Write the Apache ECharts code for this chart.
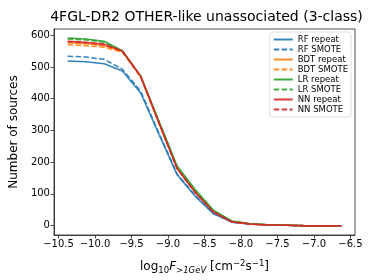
<!DOCTYPE html>
<html>
<head>
<meta charset="utf-8">
<script src="https://cdn.jsdelivr.net/npm/echarts@6/dist/echarts.min.js"></script>
<style>html,body{margin:0;padding:0;background:#fff}#c{width:374px;height:280px}</style>
</head>
<body>
<div id="c"></div>
<script>
const xValues = [-10.375, -10.125, -9.875, -9.625, -9.375, -9.125, -8.875, -8.625, -8.375, -8.125, -7.875, -7.625, -7.375, -7.125, -6.875, -6.625];
const rfRepeat = [519, 516, 510, 487, 418, 288, 160, 92, 37, 11, 5, 2, 1, 0, 0, 0];
const rfSmote = [534, 531, 524, 493, 424, 292, 163, 94, 38, 11, 5, 2, 1, 0, 0, 0];
const bdtRepeat = [576, 573, 567, 549, 470, 324, 181, 106, 44, 13, 5, 2, 1, 0, 0, 0];
const bdtSmote = [570, 567, 562, 546, 468, 322, 180, 105, 43, 12, 5, 2, 1, 0, 0, 0];
const lrRepeat = [591, 588, 581, 551, 472, 330, 188, 113, 48, 15, 6, 3, 1, 0, 0, 0];
const lrSmote = [588, 585, 578, 550, 471, 328, 186, 111, 47, 14, 6, 3, 1, 0, 0, 0];
const nnRepeat = [581, 578, 572, 550, 471, 325, 180, 104, 43, 12, 5, 2, 1, 0, 0, 0];
const nnSmote = [579, 576, 570, 549, 470, 324, 179, 103, 42, 12, 5, 2, 1, 0, 0, 0];
const xTicks = [-10.5, -10.0, -9.5, -9.0, -8.5, -8.0, -7.5, -7.0, -6.5];
const yTicks = [0, 100, 200, 300, 400, 500, 600];
const titleText = '4FGL-DR2 OTHER-like unassociated (3-class)';

const seriesDefs = [
  ['RF repeat', rfRepeat, '#1f77b4', 'solid'],
  ['RF SMOTE', rfSmote, '#1f77b4', 'dashed'],
  ['BDT repeat', bdtRepeat, '#ff7f0e', 'solid'],
  ['BDT SMOTE', bdtSmote, '#ff7f0e', 'dashed'],
  ['LR repeat', lrRepeat, '#2ca02c', 'solid'],
  ['LR SMOTE', lrSmote, '#2ca02c', 'dashed'],
  ['NN repeat', nnRepeat, '#d62728', 'solid'],
  ['NN SMOTE', nnSmote, '#d62728', 'dashed']
];

const font = 'DejaVu Sans';
const fmt = v => (v < 0 ? '\u2212' : '') + Math.abs(v).toFixed(1);

const chart = echarts.init(document.getElementById('c'), null, {renderer: 'canvas'});
chart.setOption({
  animation: false,
  backgroundColor: '#fff',
  title: {
    text: titleText,
    left: 201.5,
    textAlign: 'center',
    top: 5,
    textStyle: {fontFamily: font, fontSize: 14, fontWeight: 'normal', color: '#000'}
  },
  grid: {left: 48, right: 19, top: 29, bottom: 42, show: true, borderColor: '#222', borderWidth: 0.8, backgroundColor: 'transparent'},
  legend: {
    orient: 'vertical',
    right: 23,
    top: 32,
    itemWidth: 19,
    itemHeight: 8,
    itemGap: 1,
    padding: [3, 3, 3, 3],
    backgroundColor: '#fff',
    borderColor: '#d5d5d5',
    borderWidth: 0.8,
    borderRadius: 3,
    itemStyle: {opacity: 0},
    textStyle: {fontFamily: font, fontSize: 8.5, color: '#000', padding: [0, 0, 0, 0], lineHeight: 8},
    data: seriesDefs.map(d => d[0])
  },
  xAxis: {
    type: 'value',
    min: -10.5625,
    max: -6.4375,
    splitLine: {show: false},
    axisLine: {show: true, onZero: false, lineStyle: {color: '#222', width: 0.8}},
    axisTick: {show: true, inside: false, length: 3.5, customValues: xTicks, lineStyle: {color: '#222', width: 0.8}},
    axisLabel: {customValues: xTicks, formatter: fmt, fontFamily: font, fontSize: 10, color: '#000', margin: 4},
    name: '{n|log}{s|10}{i|F}{si|>1GeV}{n| [cm}{p|\u22122}{n|s}{p|\u22121}{n|]}',
    nameLocation: 'middle',
    nameGap: 24,
    nameTextStyle: {
      fontFamily: font, fontSize: 12, color: '#000',
      rich: {
        n: {fontFamily: font, fontSize: 12, color: '#000'},
        i: {fontFamily: font, fontSize: 12, fontStyle: 'italic', color: '#000'},
        s: {fontFamily: font, fontSize: 8.5, color: '#000', padding: [7, 0, 0, 0]},
        si: {fontFamily: font, fontSize: 8.5, fontStyle: 'italic', color: '#000', padding: [7, 0, 0, 0]},
        p: {fontFamily: font, fontSize: 8.5, color: '#000', padding: [0, 0, 7, 0]}
      }
    }
  },
  yAxis: {
    type: 'value',
    min: -29.5,
    max: 619.5,
    splitLine: {show: false},
    axisLine: {show: true, onZero: false, lineStyle: {color: '#222', width: 0.8}},
    axisTick: {show: true, inside: false, length: 3.5, customValues: yTicks, lineStyle: {color: '#222', width: 0.8}},
    axisLabel: {customValues: yTicks, fontFamily: font, fontSize: 10, color: '#000', margin: 4},
    name: 'Number of sources',
    nameLocation: 'middle',
    nameGap: 28,
    nameTextStyle: {fontFamily: font, fontSize: 12, color: '#000'}
  },
  series: seriesDefs.map(d => ({
    name: d[0],
    type: 'line',
    data: xValues.map((x, i) => [x, d[1][i]]),
    symbol: 'none',
    showSymbol: false,
    color: d[2],
    lineStyle: {color: d[2], width: 1.5, type: d[3] === 'dashed' ? [5.5, 2.4] : 'solid', opacity: 0.9}
  }))
});
</script>
</body>
</html>
